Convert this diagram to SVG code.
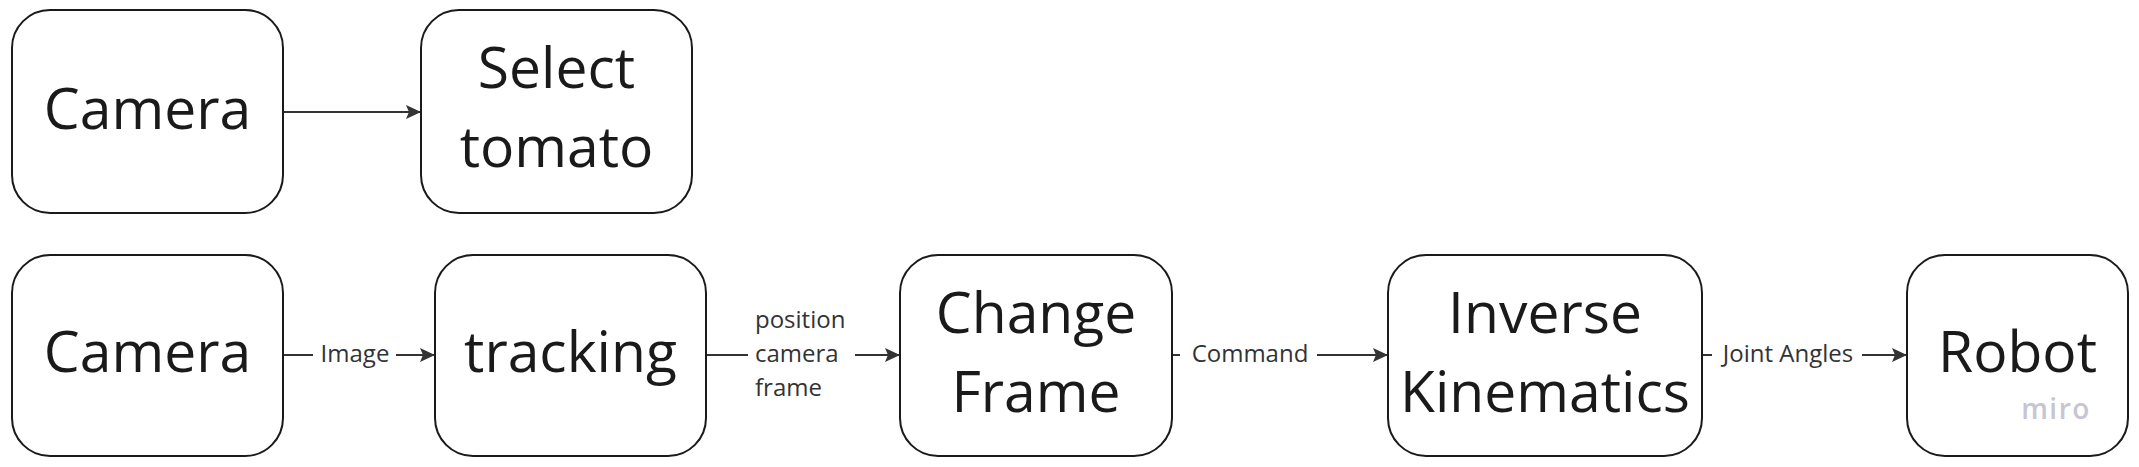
<svg xmlns="http://www.w3.org/2000/svg" width="2139" height="467" viewBox="0 0 2139 467">
<style>
.box{fill:#ffffff;stroke:#1a1a1a;stroke-width:2}
.nt{font-family:"Open Sans","Liberation Sans",sans-serif;font-size:57px;fill:#1a1a1a;text-anchor:middle}
.lt{font-family:"Open Sans","Liberation Sans",sans-serif;font-size:24px;fill:#333333}
.cn{fill:none;stroke:#333333;stroke-width:2}
</style>
<defs>
<marker id="arr" markerUnits="userSpaceOnUse" markerWidth="20" markerHeight="20" refX="15" refY="7" orient="auto">
<path d="M0 0 L15 7 L0 14 L3 7 Z" fill="#333333"/>
</marker>
</defs>
<rect width="2139" height="467" fill="#ffffff"/>
<g id="connectors">
<path class="cn" d="M284 112 H421" marker-end="url(#arr)"/>
<path class="cn" d="M284 355 H313 M396 355 H435" marker-end="url(#arr)"/>
<text class="lt" x="355" y="362" text-anchor="middle">Image</text>
<path class="cn" d="M707 355 H748 M855 355 H900" marker-end="url(#arr)"/>
<text class="lt" x="755" y="328">position</text>
<text class="lt" x="755" y="362">camera</text>
<text class="lt" x="755" y="396">frame</text>
<path class="cn" d="M1173 355 H1180 M1317 355 H1388" marker-end="url(#arr)"/>
<text class="lt" x="1250" y="362" text-anchor="middle">Command</text>
<path class="cn" d="M1703 355 H1712 M1862 355 H1907" marker-end="url(#arr)"/>
<text class="lt" x="1788" y="362" text-anchor="middle">Joint Angles</text>
</g>
<g id="camera_top">
<rect class="box" x="12" y="10" width="271" height="203" rx="38"/>
<text class="nt" x="147.5" y="129">Camera</text>
</g>
<g id="select_tomato">
<rect class="box" x="421" y="10" width="271" height="203" rx="38"/>
<text class="nt" x="556.5" y="88">Select</text>
<text class="nt" x="556.5" y="167">tomato</text>
</g>
<g id="camera_bottom">
<rect class="box" x="12" y="255" width="271" height="201" rx="38"/>
<text class="nt" x="147.5" y="372">Camera</text>
</g>
<g id="tracking">
<rect class="box" x="435" y="255" width="271" height="201" rx="38"/>
<text class="nt" x="570.5" y="372">tracking</text>
</g>
<g id="change_frame">
<rect class="box" x="900" y="255" width="272" height="201" rx="38"/>
<text class="nt" x="1036" y="333">Change</text>
<text class="nt" x="1036" y="412">Frame</text>
</g>
<g id="inverse_kinematics">
<rect class="box" x="1388" y="255" width="314" height="201" rx="38"/>
<text class="nt" x="1545" y="333">Inverse</text>
<text class="nt" x="1545" y="412">Kinematics</text>
</g>
<g id="robot">
<rect class="box" x="1907" y="255" width="221" height="201" rx="38"/>
<text class="nt" x="2017.5" y="372">Robot</text>
<text x="2056" y="419" text-anchor="middle" font-family="'Open Sans','Liberation Sans',sans-serif" font-size="28" font-weight="600" letter-spacing="1.5" fill="#c6c6d2">miro</text>
</g>
</svg>
